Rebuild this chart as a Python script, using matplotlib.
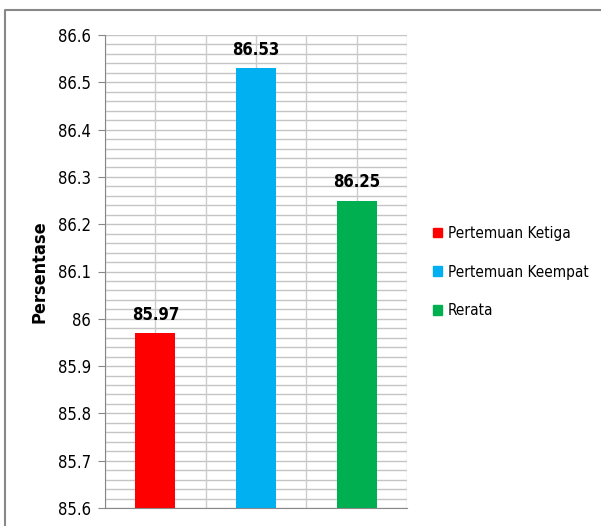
import matplotlib
matplotlib.use("Agg")
import matplotlib.pyplot as plt
from matplotlib.patches import Rectangle
from matplotlib.lines import Line2D
import numpy as np

categories = ["Pertemuan Ketiga", "Pertemuan Keempat", "Rerata"]
values = [85.97, 86.53, 86.25]
colors = ["#FF0000", "#00B0F0", "#00B050"]
yticks = [85.6, 85.7, 85.8, 85.9, 86.0, 86.1, 86.2, 86.3, 86.4, 86.5, 86.6]
ytick_labels = ["85.6", "85.7", "85.8", "85.9", "86", "86.1", "86.2", "86.3", "86.4", "86.5", "86.6"]

plt.rcParams['font.family'] = ['DejaVu Sans']
plt.rcParams['font.stretch'] = 'condensed'

fig = plt.figure(figsize=(6.01, 5.26), dpi=100)
W, H = 601, 526
ax = fig.add_axes([105 / W, 1 - 508 / H, (407 - 105) / W, (508 - 35) / H])

x = np.arange(len(categories))
ax.set_xlim(-0.5, len(categories) - 0.5)
ax.set_ylim(85.6, 86.6)

# grid
for yv in np.arange(85.6, 86.6001, 0.02):
    ax.axhline(yv, color="#C4C4C4", lw=1.0, zorder=0)
for xv in np.arange(-0.5, len(categories), 0.5):
    ax.axvline(xv, color="#CCCCCC", lw=1.0, zorder=0)

bars = ax.bar(x, [v - 85.6 for v in values], bottom=85.6, width=0.4, color=colors, zorder=2)
for xi, v in zip(x, values):
    ax.text(xi, v + 0.02, f"{v:.2f}", ha="center", va="bottom", fontsize=12, fontweight="bold",
            fontstretch="condensed")

ax.set_yticks(yticks)
ax.set_yticklabels(ytick_labels, fontsize=12, fontstretch="condensed")
ax.set_xticks([])
for s in ["top", "right"]:
    ax.spines[s].set_visible(False)
ax.spines["left"].set_color("#888888")
ax.spines["bottom"].set_color("#888888")
ax.tick_params(axis="y", length=5, color="#888888", pad=5)
ax.set_ylabel("Persentase", fontsize=13, fontweight="bold", labelpad=7, fontstretch="condensed")

handles = [Rectangle((0, 0), 1, 1, color=c) for c in colors]
fig.legend(handles, categories, loc="center left", bbox_to_anchor=(433 / W, 1 - 272 / H),
           frameon=False, handlelength=0.6, handleheight=0.6, borderpad=0, borderaxespad=0,
           handletextpad=0.35, labelspacing=1.55, prop={'size': 11, 'stretch': 'condensed'})

# outer border (only top and left edges visible)
fig.lines.append(Line2D([5 / W, 5 / W, 1.0], [0.0, 1 - 10 / H, 1 - 10 / H],
                        transform=fig.transFigure, color="#888888", lw=1.5))

fig.savefig("out.png", dpi=100)
